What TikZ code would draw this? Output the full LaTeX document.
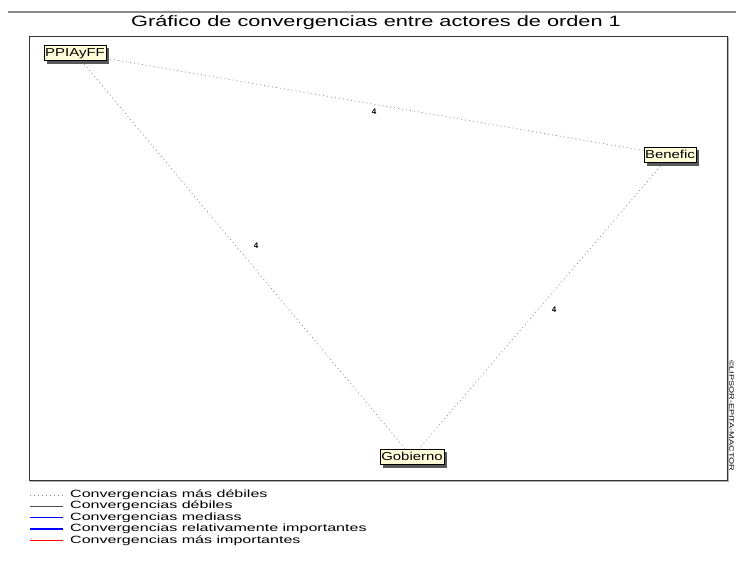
\documentclass[tikz,border=0pt]{standalone}
\usepackage{fontspec}
\setmainfont{Liberation Sans}
\newfontfamily\titlefont[FakeStretch=1.45]{Liberation Sans}
\newfontfamily\legfont[FakeStretch=1.53]{Liberation Sans}
\newfontfamily\actfont[FakeStretch=1.3]{Liberation Sans}
\newfontfamily\copyfont[FakeStretch=1.4]{Liberation Sans}
\begin{document}
\begin{tikzpicture}[x=1pt,y=-1pt,
  actor/.style={draw=black,fill=yellow!15,inner sep=1.2pt,font=\actfont\fontsize{11.5}{12}\selectfont,
    line width=0.7pt,text height=8.5pt,text depth=1.5pt,minimum height=15pt},
  weak/.style={draw=black!45,line width=0.7pt,dash pattern=on 1pt off 3pt},
  lbl/.style={font=\bfseries\fontsize{8}{9}\selectfont,inner sep=0pt},
  legtxt/.style={anchor=west,font=\legfont\fontsize{10.5}{11}\selectfont,inner sep=0pt}]
\useasboundingbox (0,0) rectangle (736,566);
\fill[white] (0,0) rectangle (736,566);
% top rule
\draw[black!45,line width=1.2pt] (8,12) -- (736,12);
% title
\node[font=\titlefont\fontsize{15}{16}\selectfont,inner sep=0pt] (title) at (376,23) {Gráfico de convergencias entre actores de orden 1};
% frame
\draw[black!80,line width=1pt] (29,36) rectangle (727,480);
\draw[black!30,line width=0.6pt] (728,37) -- (728,481) -- (30,481);
% copyright text
\node[rotate=-90,anchor=west,font=\copyfont\fontsize{6.5}{7}\selectfont,inner sep=0pt] (copy) at (731.5,360) {©LIPSOR-EPITA-MACTOR};
% actors
\node[actor] (p) at (75,53) {PPIAyFF};
\node[actor] (b) at (670,155) {Benefic};
\node[actor] (g) at (412,457) {Gobierno};
% edges
\draw[weak] (p) -- (b);
\draw[weak] (p) -- (g);
\draw[weak] (b) -- (g);
% shadows
\foreach \n in {p,b,g}{
  \fill[black!65] ([xshift=0.5pt,yshift=-3pt]\n.north east) rectangle ([xshift=3pt,yshift=-3pt]\n.south east);
  \fill[black!65] ([xshift=3pt,yshift=-0.5pt]\n.south west) rectangle ([xshift=3pt,yshift=-3pt]\n.south east);
}
\node[actor] at (p) {PPIAyFF};
\node[actor] at (b) {Benefic};
\node[actor] at (g) {Gobierno};
% labels
\node[lbl] (l1) at (374,112) {4};
\node[lbl] (l2) at (256,246) {4};
\node[lbl] (l3) at (554,310) {4};
% legend
\coordinate (a1) at (30,495); \coordinate (c1) at (63,495);
\coordinate (a2) at (30,506); \coordinate (c2) at (63,506);
\coordinate (a3) at (30,517.5); \coordinate (c3) at (63,517.5);
\coordinate (a4) at (30,529); \coordinate (c4) at (63,529);
\coordinate (a5) at (30,540.5); \coordinate (c5) at (63,540.5);
\draw[weak] (a1) -- (c1);
\draw[black!70,line width=0.7pt] (a2) -- (c2);
\draw[blue,line width=0.7pt] (a3) -- (c3);
\draw[blue,line width=1.5pt] (a4) -- (c4);
\draw[red,line width=1.5pt] (a5) -- (c5);
\node[legtxt] (t1) at (70,495) {Convergencias más débiles};
\node[legtxt] (t2) at (70,506) {Convergencias débiles};
\node[legtxt] (t3) at (70,517.5) {Convergencias mediass};
\node[legtxt] (t4) at (70,529) {Convergencias relativamente importantes};
\node[legtxt] (t5) at (70,540.5) {Convergencias más importantes};
\end{tikzpicture}
\end{document}
